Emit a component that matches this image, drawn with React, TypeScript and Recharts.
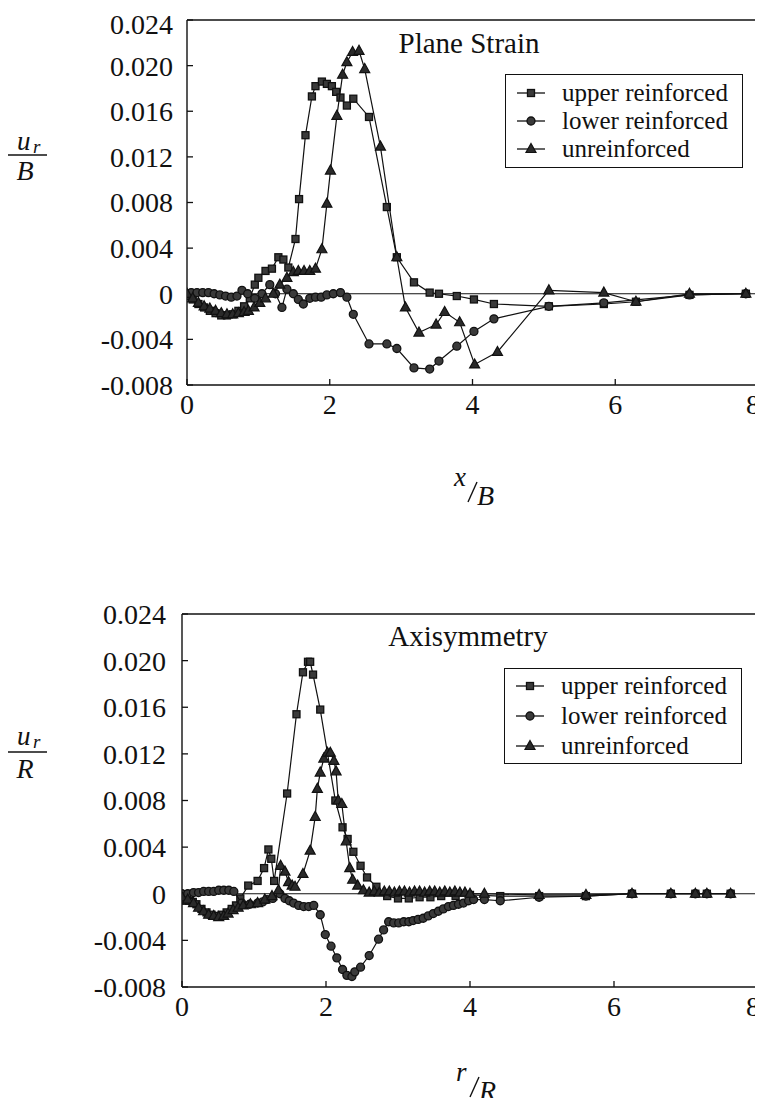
import React from "react";
import { ScatterChart, Scatter, XAxis, YAxis, ReferenceLine, Legend } from "recharts";

const SERIF = '"Liberation Serif", "Times New Roman", serif';
const INK = "#111";

const xTicks = [0, 2, 4, 6, 8];
const yTicks = [-0.008, -0.004, 0, 0.004, 0.008, 0.012, 0.016, 0.02, 0.024];

// Plane strain: [x/B, u_r/B]
const planeUpper = [
  [0, -0.0002], [0.08, -0.0005], [0.16, -0.0009], [0.24, -0.0012], [0.32, -0.0015], [0.4, -0.0017],
  [0.48, -0.0019], [0.56, -0.0019], [0.64, -0.0018], [0.72, -0.0015], [0.8, -0.0011], [0.88, -0.0004],
  [0.95, 0.0008], [1.0, 0.0014], [1.1, 0.002], [1.19, 0.0022], [1.28, 0.0032], [1.35, 0.003],
  [1.42, 0.0023], [1.52, 0.0048], [1.57, 0.0083], [1.66, 0.0139], [1.75, 0.0173], [1.8, 0.0182],
  [1.89, 0.0186], [1.96, 0.0184], [2.03, 0.0182], [2.09, 0.0177], [2.15, 0.0172], [2.24, 0.0165],
  [2.33, 0.0171], [2.55, 0.0155], [2.8, 0.0076], [2.94, 0.0032], [3.18, 0.001], [3.4, 0.0001],
  [3.53, 0.0], [3.78, -0.0002], [4.02, -0.0005], [4.3, -0.0009], [5.07, -0.0011], [5.84, -0.0009],
  [6.29, -0.0007], [7.04, -0.0001], [7.83, 0],
];
const planeLower = [
  [0, 0], [0.06, 0.0001], [0.14, 0.0001], [0.22, 0.0001], [0.3, 0.0001], [0.38, 0], [0.46, -0.0001],
  [0.54, -0.0002], [0.62, -0.0003], [0.7, -0.0002], [0.77, 0.0003], [0.85, 0], [0.95, -0.0004],
  [1.05, 0], [1.16, 0.0008], [1.24, 0], [1.33, -0.0012], [1.4, 0.0004], [1.49, 0], [1.56, -0.0005],
  [1.63, -0.0009], [1.72, -0.0004], [1.8, -0.0003], [1.88, -0.0003], [1.96, -0.0001], [2.05, 0],
  [2.15, 0.0001], [2.24, -0.0003], [2.33, -0.0018], [2.55, -0.0044], [2.8, -0.0044], [2.94, -0.0048],
  [3.18, -0.0065], [3.4, -0.0066], [3.53, -0.0059], [3.78, -0.0046], [4.02, -0.0033], [4.3, -0.0022],
  [5.07, -0.0011], [5.84, -0.0008], [7.04, -0.0001], [7.83, 0],
];
const planeUnre = [
  [0, 0], [0.08, -0.0004], [0.16, -0.0008], [0.24, -0.0011], [0.32, -0.0013], [0.4, -0.0015],
  [0.48, -0.0017], [0.56, -0.0018], [0.64, -0.0018], [0.72, -0.0017], [0.8, -0.0016], [0.86, -0.0015],
  [0.94, -0.0012], [1.02, -0.0008], [1.1, -0.0004], [1.21, 0], [1.3, 0.0008], [1.4, 0.0014],
  [1.49, 0.0019], [1.56, 0.002], [1.64, 0.002], [1.72, 0.002], [1.8, 0.0022], [1.89, 0.0039],
  [1.96, 0.0079], [2.01, 0.0108], [2.1, 0.0156], [2.18, 0.0192], [2.24, 0.0203], [2.32, 0.0212],
  [2.41, 0.0213], [2.49, 0.0197], [2.71, 0.0129], [2.94, 0.0032], [3.06, -0.0012], [3.25, -0.0034],
  [3.49, -0.0027], [3.61, -0.0016], [3.82, -0.0025], [4.03, -0.0062], [4.35, -0.0051], [5.07, 0.0003],
  [5.84, 0.0001], [6.29, -0.0007], [7.04, 0], [7.83, 0],
];

// Axisymmetry: [r/R, u_r/R]
const axiUpper = [
  [0, -0.0005], [0.05, -0.0006], [0.1, -0.0006], [0.15, -0.0007], [0.2, -0.0009], [0.27, -0.0013],
  [0.34, -0.0016], [0.41, -0.0018], [0.48, -0.0019], [0.55, -0.0018], [0.62, -0.0016], [0.69, -0.0013],
  [0.75, -0.001], [0.81, -0.0004], [0.92, 0.0007], [1.05, 0.0011], [1.14, 0.0022], [1.2, 0.0038],
  [1.24, 0.003], [1.28, 0.0011], [1.46, 0.0086], [1.59, 0.0154], [1.68, 0.019], [1.75, 0.0199],
  [1.78, 0.0199], [1.82, 0.0188], [1.92, 0.0158], [2.13, 0.008], [2.23, 0.0057], [2.3, 0.0047],
  [2.38, 0.0036], [2.48, 0.0024], [2.57, 0.0014], [2.7, 0.0006], [2.85, -0.0002], [3.0, -0.0004],
  [3.15, -0.0004], [3.3, -0.0003], [3.45, -0.0003], [3.6, -0.0002], [3.8, -0.0002], [4.0, -0.0001],
  [4.42, -0.0002], [4.96, -0.0002], [5.61, -0.0002], [6.25, 0], [6.79, 0], [7.13, 0], [7.29, 0], [7.62, 0],
];
const axiLower = [
  [0, 0], [0.08, 0], [0.16, 0.0001], [0.23, 0.0001], [0.3, 0.0002], [0.37, 0.0002], [0.44, 0.0002],
  [0.51, 0.0003], [0.58, 0.0003], [0.65, 0.0003], [0.72, 0.0002], [0.83, -0.0008], [0.94, -0.0009],
  [1.05, -0.0008], [1.12, -0.0007], [1.18, -0.0005], [1.26, -0.0004], [1.36, 0], [1.43, -0.0004],
  [1.49, -0.0006], [1.55, -0.0008], [1.62, -0.001], [1.69, -0.0011], [1.76, -0.0011], [1.83, -0.001],
  [1.92, -0.0018], [1.99, -0.0035], [2.07, -0.0045], [2.15, -0.0055], [2.23, -0.0065], [2.29, -0.007],
  [2.36, -0.0071], [2.4, -0.0067], [2.48, -0.0063], [2.6, -0.0053], [2.73, -0.0039], [2.8, -0.0031],
  [2.87, -0.0024], [2.94, -0.0025], [3.01, -0.0025], [3.08, -0.0024], [3.15, -0.0024], [3.21, -0.0023],
  [3.28, -0.0022], [3.35, -0.0021], [3.42, -0.0019], [3.49, -0.0017], [3.56, -0.0015], [3.63, -0.0013],
  [3.7, -0.0011], [3.77, -0.001], [3.84, -0.0009], [3.91, -0.0008], [3.98, -0.0006], [4.05, -0.0005],
  [4.2, -0.0005], [4.42, -0.0006], [4.96, -0.0003], [5.61, -0.0002], [6.25, 0], [6.79, 0], [7.13, 0],
  [7.29, 0], [7.62, 0],
];
const axiUnre = [
  [0, -0.0003], [0.08, -0.0005], [0.16, -0.0008], [0.23, -0.0012], [0.3, -0.0015], [0.37, -0.0018],
  [0.44, -0.0019], [0.51, -0.002], [0.58, -0.0019], [0.64, -0.0017], [0.71, -0.0014], [0.78, -0.0012],
  [0.85, -0.001], [0.95, -0.0009], [1.05, -0.0008], [1.15, -0.0005], [1.25, -0.0002], [1.34, 0.0003],
  [1.37, 0.0024], [1.43, 0.0019], [1.48, 0.001], [1.53, 0.0007], [1.57, 0.0006], [1.68, 0.0017],
  [1.78, 0.0037], [1.85, 0.0066], [1.88, 0.009], [1.92, 0.0104], [1.97, 0.0116], [2.02, 0.0121],
  [2.06, 0.0121], [2.11, 0.0114], [2.14, 0.0105], [2.17, 0.008], [2.22, 0.0077], [2.28, 0.0045],
  [2.33, 0.0022], [2.37, 0.0012], [2.44, 0.0007], [2.52, 0.0003], [2.6, 0.0001], [2.67, 0.0002],
  [2.74, 0.0001], [2.81, 0.0002], [2.88, 0.0002], [2.95, 0.0001], [3.02, 0.0002], [3.09, 0.0002],
  [3.16, 0.0001], [3.23, 0.0002], [3.3, 0.0002], [3.37, 0.0001], [3.44, 0.0002], [3.51, 0.0002],
  [3.58, 0.0001], [3.65, 0.0002], [3.72, 0.0001], [3.79, 0.0002], [3.86, 0.0001], [3.93, 0.0001],
  [4.0, 0], [4.2, 0], [4.96, -0.0001], [5.61, -0.0001], [6.25, 0], [6.79, 0], [7.13, 0], [7.29, 0], [7.62, 0],
];

const pts = (rows: number[][]) => rows.map(([x, y]) => ({ x, y }));

type Kind = "square" | "circle" | "triangle";

const Marker = ({ kind, cx, cy }: { kind: Kind; cx: number; cy: number }) => {
  if (cx == null || cy == null) return null;
  if (kind === "square")
    return <rect x={cx - 3.5} y={cy - 3.5} width={7} height={7} fill="#3a3a3a" stroke={INK} strokeWidth={1.3} />;
  if (kind === "circle") return <circle cx={cx} cy={cy} r={4} fill="#3a3a3a" stroke={INK} strokeWidth={1.3} />;
  return (
    <polygon
      points={`${cx},${cy - 5.5} ${cx + 5},${cy + 3.5} ${cx - 5},${cy + 3.5}`}
      fill="#2a2a2a"
      stroke={INK}
      strokeWidth={1.2}
    />
  );
};

const names = ["upper reinforced", "lower reinforced", "unreinforced"];
const kinds: Kind[] = ["square", "circle", "triangle"];

const LegendBox = ({ rowH, padTop }: { rowH: number; padTop: number }) => (
  <div
    style={{
      width: 238,
      boxSizing: "border-box",
      border: "1.5px solid #111",
      background: "#fff",
      paddingTop: padTop,
      paddingBottom: padTop,
      fontFamily: SERIF,
      fontSize: 25,
      color: "#111",
    }}
  >
    {names.map((n, i) => (
      <div key={n} style={{ display: "flex", alignItems: "center", height: rowH, whiteSpace: "nowrap" }}>
        <svg width={56} height={14} style={{ flex: "none" }}>
          <line x1={11} x2={39} y1={7} y2={7} stroke={INK} strokeWidth={1.3} />
          <Marker kind={kinds[i]} cx={25} cy={7} />
        </svg>
        <span>{n}</span>
      </div>
    ))}
  </div>
);

const YFrac = ({ den, lineY, numY, denY }: { den: string; lineY: number; numY: number; denY: number }) => (
  <g fontFamily={SERIF} fill="#111" fontStyle="italic">
    <text x={9} y={numY} fontSize={27}>u</text>
    <text x={25} y={numY + 3} fontSize={19}>r</text>
    <line x1={0} x2={39} y1={lineY} y2={lineY} stroke="#111" strokeWidth={1.3} />
    <text x={17} y={denY} fontSize={28} textAnchor="middle">{den}</text>
  </g>
);

// px/py instead of x/y: the axis passes its own x/y to a label element
const XFrac = ({ num, den, px, py }: { num: string; den: string; px: number; py: number }) => (
  <g fontFamily={SERIF} fill="#111" fontStyle="italic">
    <text x={px} y={py} fontSize={27}>{num}</text>
    <line x1={px + 14} y1={py + 16} x2={px + 23} y2={py - 4} stroke="#111" strokeWidth={1.4} />
    <text x={px + 23} y={py + 19} fontSize={28}>{den}</text>
  </g>
);

const XTick = ({ x, y, payload }: any) => (
  <text
    x={payload.value === 8 ? x - 5 : x}
    y={y}
    dy="0.71em"
    textAnchor="middle"
    fill="#111"
    fontSize={28}
    fontFamily={SERIF}
  >
    {payload.value}
  </text>
);

const fmtY = (v: number) => (v === 0 ? "0" : v.toFixed(3));

type PanelProps = {
  title: string;
  titleX: number;
  titleY: number;
  height: number;
  top: number;
  yWidth: number;
  xHeight: number;
  yMargin: number;
  series: number[][][];
  legendLeft: number;
  legendTop: number;
  rowH: number;
  padTop: number;
  den: string;
  numVar: string;
  yFrac: { lineY: number; numY: number; denY: number };
  xFrac: { px: number; py: number };
};

const Panel = (p: PanelProps) => (
  <ScatterChart
    width={755}
    height={p.height}
    margin={{ top: p.top, right: 5, bottom: 0, left: 0 }}
    style={{ fontFamily: SERIF }}
  >
    <XAxis
      type="number"
      dataKey="x"
      domain={[0, 8]}
      ticks={xTicks}
      allowDataOverflow
      height={p.xHeight}
      tickSize={-6}
      tickMargin={15}
      axisLine={{ stroke: "#111", strokeWidth: 1.4 }}
      tickLine={{ stroke: "#111", strokeWidth: 1.3 }}
      tick={<XTick />}
      label={<XFrac num={p.numVar} den={p.den} px={p.xFrac.px} py={p.xFrac.py} />}
    />
    <YAxis
      type="number"
      dataKey="y"
      domain={[-0.008, 0.024]}
      ticks={yTicks}
      allowDataOverflow
      width={p.yWidth}
      tickSize={-6}
      tickMargin={p.yMargin}
      tickFormatter={fmtY}
      axisLine={{ stroke: "#111", strokeWidth: 1.4 }}
      tickLine={{ stroke: "#111", strokeWidth: 1.3 }}
      tick={{ fill: "#111", fontSize: 28, fontFamily: SERIF }}
      label={<YFrac den={p.den} {...p.yFrac} />}
    />
    <ReferenceLine y={0.024} stroke="#111" strokeWidth={1.4} />
    <ReferenceLine x={8} stroke="#111" strokeWidth={1.4} />
    <ReferenceLine y={0} stroke="#111" strokeWidth={1.2} />
    {p.series.map((rows, i) => (
      <Scatter
        key={names[i]}
        name={names[i]}
        data={pts(rows)}
        line={{ stroke: INK, strokeWidth: 1.2 }}
        lineType="joint"
        isAnimationActive={false}
        shape={(s: any) => <Marker kind={kinds[i]} cx={s.cx} cy={s.cy} />}
      />
    ))}
    <text x={p.titleX} y={p.titleY} textAnchor="middle" fontFamily={SERIF} fontSize={29} fill="#111">
      {p.title}
    </text>
    <Legend
      layout="vertical"
      align="center"
      verticalAlign="middle"
      wrapperStyle={{ left: p.legendLeft, top: p.legendTop, width: 238 }}
      content={() => <LegendBox rowH={p.rowH} padTop={p.padTop} />}
    />
  </ScatterChart>
);

export default function App() {
  // negative bottom margin cancels the body margin so the page does not scroll
  return (
    <div style={{ width: 755, background: "#fff", marginBottom: -8 }}>
      <Panel
        title="Plane Strain"
        titleX={461}
        titleY={45}
        height={520}
        top={12}
        yWidth={179}
        xHeight={143}
        yMargin={20}
        series={[planeUpper, planeLower, planeUnre]}
        legendLeft={497}
        legendTop={66}
        rowH={28}
        padTop={4}
        den="B"
        numVar="x"
        yFrac={{ lineY: 147, numY: 142, denY: 172 }}
        xFrac={{ px: 446, py: 478 }}
      />
      <Panel
        title="Axisymmetry"
        titleX={460}
        titleY={118}
        height={578}
        top={86}
        yWidth={174}
        xHeight={119}
        yMargin={22}
        series={[axiUpper, axiLower, axiUnre]}
        legendLeft={496}
        legendTop={140}
        rowH={30}
        padTop={2}
        den="R"
        numVar="r"
        yFrac={{ lineY: 224, numY: 217, denY: 250 }}
        xFrac={{ px: 448, py: 553 }}
      />
    </div>
  );
}
